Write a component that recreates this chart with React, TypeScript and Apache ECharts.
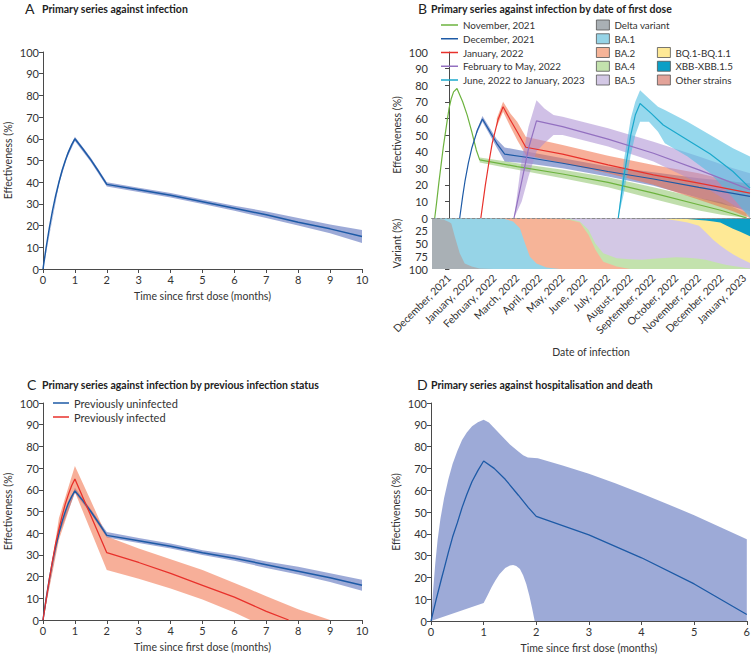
import React, { useEffect, useRef } from 'react';
import * as echarts from 'echarts';

const FONT = 'Lato, "Noto Sans", sans-serif';

// ---------- Panel A: primary series against infection ----------
const A_LINE = [[0, 0], [0.1, 10], [0.2, 19], [0.3, 27], [0.4, 34], [0.5, 40], [0.6, 45.5], [0.7, 50], [0.8, 54], [0.9, 57.3], [1, 60], [1.25, 55.3], [1.5, 50.3], [1.75, 44.8], [2, 39], [3, 36.5], [4, 34], [5, 31], [6, 28], [7, 25], [8, 21.5], [9, 18.5], [10, 15]];
const A_BAND = [[0, 0, 0], [0.5, 39, 41], [0.75, 51, 53], [1, 59, 61], [1.5, 49.3, 51.3], [2, 38, 40], [3, 35.5, 37.5], [4, 33, 35], [5, 30, 32], [6, 26.8, 29.2], [7, 23.5, 26.5], [8, 20, 23.5], [9, 16.5, 20.5], [10, 12, 18]];

// ---------- Panel B: by date of first dose (x = months from December 2021) ----------
const MONTH_LABELS = ['December, 2021', 'January, 2022', 'February, 2022', 'March, 2022', 'April, 2022', 'May, 2022', 'June, 2022', 'July, 2022', 'August, 2022', 'September, 2022', 'October, 2022', 'November, 2022', 'December, 2022', 'January, 2023'];
const MONTH_TICKS = [0, 1, 2, 3, 4, 5, 6, 7, 8, 9, 10, 11, 12, 13];

const B_NOV_LINE = [[-0.63, 0], [-0.55, 9], [-0.45, 21], [-0.35, 32], [-0.25, 43], [-0.12, 55], [0, 66], [0.1, 72], [0.2, 76], [0.35, 78], [0.6, 70], [0.8, 62], [1.0, 52], [1.2, 41], [1.35, 35], [3, 31], [5, 26.5], [7, 21.5], [9, 15], [11, 8], [12, 4.5], [13.1, 0]];
const B_NOV_BAND = [[1.35, 33.5, 36.5], [3, 29, 33], [5, 24, 29], [7, 18.5, 24.5], [9, 11.5, 18.5], [11, 4.5, 12], [12, 2, 9.5], [13.1, 0, 3]];
const B_DEC_LINE = [[0.47, 0], [0.6, 13], [0.7, 22], [0.85, 33], [1.0, 42], [1.25, 53], [1.47, 59.6], [1.8, 52], [2.1, 45], [2.45, 38.5], [3.4, 36.6], [5, 33], [7, 28], [9, 23.5], [11, 18.5], [13.25, 13]];
const B_DEC_BAND = [[1.2, 50, 52], [1.47, 58, 61.5], [1.8, 50, 54], [2.1, 42.5, 47.5], [2.45, 34, 42.5], [3.4, 33, 40], [5, 30, 36], [7, 25, 31], [9, 19.5, 27.5], [11, 12, 24], [13.25, 4, 21]];
const B_JAN_LINE = [[1.4, 0], [1.6, 20], [1.75, 33], [1.9, 45], [2.15, 59], [2.38, 67], [2.7, 59], [3.0, 52], [3.38, 42.6], [5, 38.5], [7, 32], [9, 26], [11, 21], [13.25, 15]];
const B_JAN_BAND = [[2.1, 55, 60], [2.38, 64, 70], [2.7, 55, 63], [3.0, 47, 58], [3.38, 38, 49], [5, 33, 44], [7, 27, 37.5], [9, 20, 32], [11, 11, 27], [12.5, 4, 22], [13.25, 0, 20]];
const B_FEB_LINE = [[2.86, 0], [3.2, 22], [3.5, 42], [3.85, 58.5], [5, 55], [7, 47.5], [9, 39], [11, 29], [12.5, 21], [13.25, 17]];
const B_FEB_BAND = [[2.86, 0, 0], [3.2, 10, 35], [3.5, 25, 55], [3.85, 40, 71], [4.2, 45, 66], [4.6, 50, 62], [5, 50, 61], [7, 43, 54], [9, 34, 46], [11, 21, 37], [12.5, 8, 30], [13.25, 2, 27]];
const B_JUN_LINE = [[7.45, 0], [7.7, 25], [8.0, 50], [8.2, 62], [8.41, 69], [8.9, 63], [9.43, 56], [10.5, 47], [11.5, 38.5], [12.5, 28], [13.25, 18]];
const B_JUN_BAND = [[7.45, 0, 0], [7.7, 15, 35], [8.0, 38, 60], [8.2, 50, 70], [8.41, 58, 77], [8.8, 58, 72], [9.2, 52, 67], [9.5, 45, 65], [10.5, 37, 58], [11.5, 27, 50], [12.5, 12, 42], [13.25, 0, 37]];

// variant shares (%) at the same dates
const VAR_X = [-0.75, -0.25, 0, 0.1, 0.25, 0.47, 0.69, 1.0, 1.35, 2, 2.38, 2.82, 3.12, 3.34, 3.56, 3.85, 4.29, 4.88, 5.32, 5.76, 6.14, 6.44, 6.79, 7.38, 7.97, 8.5, 9.0, 9.5, 10.0, 10.5, 11.0, 11.3, 11.64, 11.94, 12.23, 12.5, 12.82, 13.25];
const VAR_DELTA = [99, 97, 92, 89, 64, 31, 11, 5, 1, 0, 0, 0, 0, 0, 0, 0, 0, 0, 0, 0, 0, 0, 0, 0, 0, 0, 0, 0, 0, 0, 0, 0, 0, 0, 0, 0, 0, 0];
const VAR_BA1 = [1, 3, 8, 11, 36, 69, 89, 95, 99, 100, 99, 93, 80, 51, 24, 11, 3, 0, 0, 0, 0, 0, 0, 0, 0, 0, 0, 0, 0, 0, 0, 0, 0, 0, 0, 0, 0, 0];
const VAR_BA2 = [0, 0, 0, 0, 0, 0, 0, 0, 0, 0, 1, 7, 20, 49, 76, 89, 97, 99, 96, 91, 67, 38, 14, 5, 0, 0, 0, 0, 0, 0, 0, 0, 0, 0, 0, 0, 0, 0];
const VAR_BA4 = [0, 0, 0, 0, 0, 0, 0, 0, 0, 0, 0, 0, 0, 0, 0, 0, 0, 0, 2, 2, 10, 12, 17, 16, 19, 18, 20, 21.5, 23, 22, 20, 18, 14, 11, 8, 6, 4, 1];
const VAR_BA5 = [0, 0, 0, 0, 0, 0, 0, 0, 0, 0, 0, 0, 0, 0, 0, 0, 0, 1, 2, 7, 23, 50, 69, 79, 81, 81.5, 78.5, 76.5, 72, 69, 65, 54, 43, 35, 29, 23, 17, 11];
const VAR_BQ = [0, 0, 0, 0, 0, 0, 0, 0, 0, 0, 0, 0, 0, 0, 0, 0, 0, 0, 0, 0, 0, 0, 0, 0, 0, 0, 0.5, 1, 3.5, 7, 11, 23, 36, 45, 48, 50, 52, 52];
const VAR_XBB = [0, 0, 0, 0, 0, 0, 0, 0, 0, 0, 0, 0, 0, 0, 0, 0, 0, 0, 0, 0, 0, 0, 0, 0, 0, 0, 0, 0, 0.5, 1, 3, 4, 6, 8, 14, 20, 26, 35];
const VAR_OTHER = [0, 0, 0, 0, 0, 0, 0, 0, 0, 0, 0, 0, 0, 0, 0, 0, 0, 0, 0, 0, 0, 0, 0, 0, 0, 0.5, 1, 1, 1, 1, 1, 1, 1, 1, 1, 1, 1, 1];

// ---------- Panel C: by previous infection status ----------
const C_UNINF_LINE = [[0, 0], [0.1, 10], [0.2, 19], [0.3, 27], [0.4, 34], [0.5, 40], [0.6, 45.5], [0.7, 50], [0.8, 54], [0.9, 57], [1, 59.5], [1.25, 55], [1.5, 50], [1.75, 44.6], [2, 39], [3, 36.5], [4, 34], [5, 31], [6, 28.5], [7, 25.5], [8, 22.5], [9, 19.5], [10, 16]];
const C_UNINF_BAND = [[0, 0, 0], [0.5, 39, 41], [1, 58.5, 61], [1.5, 49, 51], [2, 38, 40.5], [3, 35.5, 37.8], [4, 33, 35.2], [5, 30, 32.2], [6, 27.3, 30], [7, 24, 27], [8, 21, 24.5], [9, 17.5, 21.5], [10, 13.5, 18.5]];
const C_INF_LINE = [[0, 0], [0.1, 9.5], [0.2, 19], [0.3, 27.5], [0.4, 35.5], [0.5, 42], [0.6, 48], [0.7, 53.5], [0.8, 58], [0.9, 62], [1, 65], [1.5, 48], [2, 31], [3, 26.5], [4, 21.5], [5, 16], [6, 10.5], [7, 4], [7.7, 0]];
const C_INF_BAND = [[0, 0, 0], [0.5, 37, 47], [1, 59, 71], [1.5, 41, 55], [2, 23, 38.5], [3, 19, 33], [4, 14.5, 28], [5, 9.5, 23], [6, 3.5, 17], [6.5, 0, 14], [7, 0, 11], [8, 0, 5], [9, 0, 0]];

// ---------- Panel D: hospitalisation and death ----------
const D_LINE = [[0, 0], [0.1, 10], [0.2, 19.5], [0.25, 24], [0.33, 31.5], [0.41, 38.5], [0.5, 45], [0.59, 52], [0.68, 58], [0.78, 64], [0.89, 69], [1, 73.4], [1.2, 70], [1.41, 65], [1.66, 57.7], [1.85, 52], [2, 48], [3, 39.5], [4, 29], [5, 17], [6, 3]];
const D_UPPER = [[0, 0], [0.04, 14], [0.08, 26], [0.125, 37], [0.18, 47], [0.25, 56.5], [0.33, 65], [0.41, 72], [0.5, 78], [0.59, 83], [0.68, 86.5], [0.78, 89.3], [0.89, 91.2], [1, 92.3], [1.1, 91], [1.2, 88.5], [1.34, 85], [1.5, 81], [1.66, 77.7], [1.75, 76], [1.84, 75], [2.03, 74.6], [2.5, 71.3], [3, 67.5], [3.5, 63.2], [4, 58.5], [4.5, 53.6], [5, 48.5], [5.5, 43], [6, 37.5]];
const D_LOWER = [[0, 0], [1, 8.2], [1.08, 12], [1.15, 15.5], [1.22, 18.5], [1.3, 21.5], [1.41, 24.3], [1.5, 25.5], [1.56, 25.7], [1.62, 25.2], [1.69, 23.8], [1.75, 21], [1.81, 17], [1.87, 11.5], [1.92, 6], [1.97, 0], [6, 0]];

// ---------- colours ----------
const BLUE = '#1d5aa6';
const BLUE_BAND = 'rgba(60,85,175,0.5)';
const RED = '#e8312b';
const RED_BAND = 'rgba(241,110,70,0.55)';
const GREEN = '#6db33f';
const GREEN_BAND = 'rgba(130,190,90,0.5)';
const PURPLE = '#9370c0';
const PURPLE_BAND = 'rgba(170,140,210,0.55)';
const CYAN = '#1ba8cc';
const CYAN_BAND = 'rgba(80,190,225,0.6)';
const AXIS = '#4a4a4a';
const TXT = '#333';

function band(name: string, xi: number, yi: number, upper: number[][], lower: number[][], fill: string, z = 2) {
  return {
    type: 'custom',
    name,
    xAxisIndex: xi,
    yAxisIndex: yi,
    clip: true,
    silent: true,
    z,
    itemStyle: { color: fill },
    data: upper,
    encode: { x: 0, y: 1 },
    renderItem: (params: any, api: any) => {
      if (params.dataIndex !== 0) return null;
      const up = upper.map((d) => api.coord([d[0], d[1]]));
      const lo = lower.slice().reverse().map((d) => api.coord([d[0], d[1]]));
      return { type: 'polygon', shape: { points: up.concat(lo) }, style: { fill } };
    },
  };
}
function bandT(name: string, xi: number, yi: number, tri: number[][], fill: string) {
  return band(name, xi, yi, tri.map((d) => [d[0], d[2]]), tri.map((d) => [d[0], d[1]]), fill);
}
function line(name: string, xi: number, yi: number, data: number[][], color: string, width: number) {
  return {
    type: 'line', name, xAxisIndex: xi, yAxisIndex: yi, data, symbol: 'none', showSymbol: false,
    lineStyle: { color, width }, itemStyle: { color }, z: 3, clip: true,
  };
}

// variants listed from the top of the inverted share axis downwards
const VARIANTS = [
  { name: 'Other strains', vals: VAR_OTHER, color: '#e3a399' },
  { name: 'XBB-XBB.1.5', vals: VAR_XBB, color: '#0a9fc6' },
  { name: 'BQ.1-BQ.1.1', vals: VAR_BQ, color: '#fee996' },
  { name: 'BA.5', vals: VAR_BA5, color: '#d3c8e5' },
  { name: 'BA.4', vals: VAR_BA4, color: '#c3e2ad' },
  { name: 'BA.2', vals: VAR_BA2, color: '#f6b498' },
  { name: 'BA.1', vals: VAR_BA1, color: '#96d4e7' },
  { name: 'Delta variant', vals: VAR_DELTA, color: '#a9b0b5' },
];
function variantSeries() {
  const cum: number[][] = [];
  let run = VAR_X.map(() => 0);
  for (const v of VARIANTS) {
    run = run.map((s, i) => s + v.vals[i]);
    cum.push(run);
  }
  const top = VAR_X.map((x) => [x, 0]);
  const out: any[] = [];
  // painted from the bottom layer up: each covers 0 .. its cumulative edge
  for (let k = VARIANTS.length - 1; k >= 0; k--) {
    const edge = VAR_X.map((x, i) => [x, cum[k][i]]);
    out.push(band(VARIANTS[k].name, 2, 2, top, edge, VARIANTS[k].color, 1));
  }
  return out;
}

const tickLabel = { color: TXT, fontSize: 11, fontFamily: FONT };
const axisLine = { show: true, lineStyle: { color: AXIS, width: 1 } };
const axisTick = { show: true, length: 4, lineStyle: { color: AXIS } };
const nameStyle = { color: TXT, fontSize: 10.5, fontFamily: FONT };

function xMonths(grid: number, max: number) {
  return {
    type: 'value', gridIndex: grid, min: 0, max, interval: 1,
    axisLine, axisTick, splitLine: { show: false },
    axisLabel: { ...tickLabel, margin: 5 },
    name: 'Time since first dose (months)', nameLocation: 'middle', nameGap: 21, nameTextStyle: nameStyle,
  };
}
function yEff(grid: number, gap: number) {
  return {
    type: 'value', gridIndex: grid, min: 0, max: 100, interval: 10,
    axisLine, axisTick, splitLine: { show: false },
    axisLabel: { ...tickLabel, margin: 4 },
    name: 'Effectiveness (%)', nameLocation: 'middle', nameGap: gap, nameRotate: 90, nameTextStyle: nameStyle,
  };
}

function titleText(letter: string, lx: number, tx: number, y: number, text: string) {
  return [
    { type: 'text', left: lx, top: y - 1, style: { text: letter, font: `14px ${FONT}`, fill: '#222' } },
    { type: 'text', left: tx, top: y + 1, style: { text, font: `bold 10.5px ${FONT}`, fill: '#222' } },
  ];
}

const legendText = { color: TXT, fontSize: 9.8, lineHeight: 12, fontFamily: FONT };

const option: any = {
  animation: false,
  backgroundColor: '#fff',
  textStyle: { fontFamily: FONT },
  grid: [
    { left: 43, top: 52, width: 319, height: 217 },
    { left: 432, top: 52, width: 318, height: 166 },
    { left: 432, top: 218, width: 318, height: 51 },
    { left: 43, top: 403, width: 319, height: 217 },
    { left: 431, top: 403, width: 319, height: 218 },
  ],
  xAxis: [
    xMonths(0, 10),
    {
      type: 'value', gridIndex: 1, min: -0.75, max: 13.25, z: 5,
      axisLine: { show: true, lineStyle: { color: '#8a8a8a', type: [3, 2], width: 1 } },
      axisTick: { show: false }, axisLabel: { show: false }, splitLine: { show: false },
    },
    {
      type: 'value', gridIndex: 2, min: -0.75, max: 13.25,
      axisLine, splitLine: { show: false },
      axisTick: { ...axisTick, customValues: MONTH_TICKS },
      axisLabel: {
        ...tickLabel, fontSize: 10.5, rotate: 45, margin: 7, customValues: MONTH_TICKS,
        formatter: (v: number) => MONTH_LABELS[Math.round(v)] ?? '',
      },
      name: 'Date of infection', nameLocation: 'middle', nameGap: 77, nameTextStyle: nameStyle,
    },
    xMonths(3, 10),
    xMonths(4, 6),
  ],
  yAxis: [
    yEff(0, 30),
    yEff(1, 30),
    {
      type: 'value', gridIndex: 2, min: 0, max: 100, interval: 25, inverse: true,
      axisLine, axisTick, splitLine: { show: false },
      axisLabel: { ...tickLabel, margin: 4, formatter: (v: number) => (v === 0 ? '' : String(v)) },
      name: 'Variant (%)', nameLocation: 'middle', nameGap: 30, nameRotate: 90, nameTextStyle: nameStyle,
    },
    yEff(3, 30),
    yEff(4, 30),
  ],
  legend: [
    {
      left: 441, top: 19, orient: 'vertical', padding: 0, itemGap: 1.75, itemWidth: 17, itemHeight: 1.5,
      icon: 'rect', selectedMode: false, textStyle: legendText,
      data: ['November, 2021', 'December, 2021', 'January, 2022', 'February to May, 2022', 'June, 2022 to January, 2023'],
    },
    {
      left: 596, top: 19, orient: 'vertical', padding: 0, itemGap: 1.75, itemWidth: 13, itemHeight: 10,
      icon: 'rect', selectedMode: false, itemStyle: { borderColor: '#555', borderWidth: 0.8 }, textStyle: legendText,
      data: ['Delta variant', 'BA.1', 'BA.2', 'BA.4', 'BA.5'],
    },
    {
      left: 657, top: 46.5, orient: 'vertical', padding: 0, itemGap: 1.75, itemWidth: 13, itemHeight: 10,
      icon: 'rect', selectedMode: false, itemStyle: { borderColor: '#555', borderWidth: 0.8 }, textStyle: legendText,
      data: ['BQ.1-BQ.1.1', 'XBB-XBB.1.5', 'Other strains'],
    },
    {
      left: 53, top: 397, orient: 'vertical', padding: 0, itemGap: 2, itemWidth: 16, itemHeight: 1.5,
      icon: 'rect', selectedMode: false,
      textStyle: { color: TXT, fontSize: 11, lineHeight: 12, fontFamily: FONT },
      data: ['Previously uninfected', 'Previously infected'],
    },
  ],
  graphic: [
    ...titleText('A', 25, 42, 2, 'Primary series against infection'),
    ...titleText('B', 418, 431, 2, 'Primary series against infection by date of first dose'),
    ...titleText('C', 27, 42, 378, 'Primary series against infection by previous infection status'),
    ...titleText('D', 417, 431, 378, 'Primary series against hospitalisation and death'),
  ],
  series: [
    // A
    bandT('A band', 0, 0, A_BAND, BLUE_BAND),
    line('A line', 0, 0, A_LINE, BLUE, 1.5),
    // B variant shares
    ...variantSeries(),
    // B effectiveness bands and lines
    bandT('Nov band', 1, 1, B_NOV_BAND, GREEN_BAND),
    bandT('Dec band', 1, 1, B_DEC_BAND, BLUE_BAND),
    bandT('Jan band', 1, 1, B_JAN_BAND, RED_BAND),
    bandT('Feb band', 1, 1, B_FEB_BAND, PURPLE_BAND),
    bandT('Jun band', 1, 1, B_JUN_BAND, CYAN_BAND),
    line('November, 2021', 1, 1, B_NOV_LINE, GREEN, 1.2),
    line('December, 2021', 1, 1, B_DEC_LINE, BLUE, 1.2),
    line('January, 2022', 1, 1, B_JAN_LINE, RED, 1.2),
    line('February to May, 2022', 1, 1, B_FEB_LINE, PURPLE, 1.2),
    line('June, 2022 to January, 2023', 1, 1, B_JUN_LINE, CYAN, 1.2),
    // C
    bandT('C uninf band', 3, 3, C_UNINF_BAND, BLUE_BAND),
    bandT('C inf band', 3, 3, C_INF_BAND, RED_BAND),
    line('Previously uninfected', 3, 3, C_UNINF_LINE, BLUE, 1.5),
    line('Previously infected', 3, 3, C_INF_LINE, RED, 1.3),
    // D
    band('D band', 4, 4, D_UPPER, D_LOWER, BLUE_BAND),
    line('D line', 4, 4, D_LINE, BLUE, 1.3),
  ],
};

export default function App() {
  const ref = useRef<HTMLDivElement>(null);
  useEffect(() => {
    const chart = echarts.init(ref.current as HTMLDivElement, null, { renderer: 'svg' });
    chart.setOption(option);
    return () => chart.dispose();
  }, []);
  return (
    <div
      ref={ref}
      style={{ position: 'absolute', left: 0, top: 0, width: 753, height: 656, background: '#fff' }}
    />
  );
}
